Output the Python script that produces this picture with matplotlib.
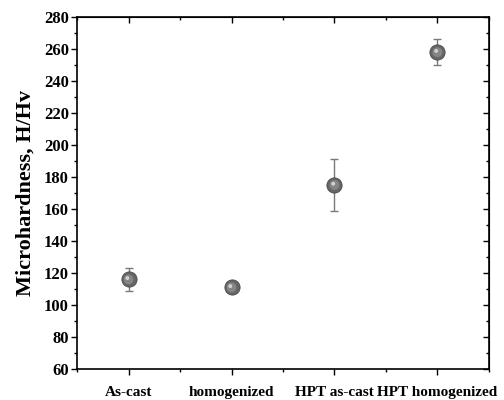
import matplotlib.pyplot as plt
import numpy as np
from matplotlib.ticker import MultipleLocator

# data
samples = ['As-cast', 'homogenized', 'HPT as-cast', 'HPT homogenized']
hardness = [116, 111, 175, 258]
hardness_err = [7, 2, 16.5, 8]

plt.rcParams['font.family'] = 'Liberation Serif'
plt.rcParams['font.weight'] = 'bold'

fig = plt.figure(figsize=(5.04, 4.0), dpi=100)
ax = fig.add_axes([0.153, 0.0775, 0.817, 0.88])

x = np.arange(1, len(samples) + 1)

ax.errorbar(x, hardness, yerr=hardness_err, fmt='none', ecolor='#7a7a7a',
            elinewidth=1.0, capsize=3, capthick=1.0, zorder=2)
# sphere-like markers: dark body plus a light highlight
ax.scatter(x, hardness, s=120, color='#666666', edgecolors='#4a4a4a',
           linewidths=0.6, zorder=3)
ax.scatter(x, hardness, s=50, color='#858585', edgecolors='none', zorder=4)
ax.scatter(x - 0.012, np.array(hardness) + 0.8, s=8, color='#d0d0d0',
           edgecolors='none', zorder=5)

ax.set_xlim(0.5, 4.5)
ax.set_ylim(60, 280)
ax.set_xticks(x)
ax.set_xticklabels(samples, fontsize=11, fontweight='bold')
ax.xaxis.set_minor_locator(MultipleLocator(0.5))
ax.yaxis.set_major_locator(MultipleLocator(20))
ax.yaxis.set_minor_locator(MultipleLocator(10))
for lab in ax.get_yticklabels():
    lab.set_fontsize(12)
    lab.set_fontweight('bold')

ax.tick_params(axis='both', which='major', direction='out', length=4, width=1)
ax.tick_params(axis='both', which='minor', direction='out', length=2.5, width=1)
ax.tick_params(axis='x', pad=8)
ax.tick_params(axis='y', pad=2)

# ticks on top and right pointing inward
ax_top = ax.secondary_xaxis('top')
ax_top.set_xticks(x)
ax_top.xaxis.set_minor_locator(MultipleLocator(0.5))
ax_top.tick_params(which='major', direction='in', length=4, width=1, labeltop=False)
ax_top.tick_params(which='minor', direction='in', length=2.5, width=1)
ax_right = ax.secondary_yaxis('right')
ax_right.yaxis.set_major_locator(MultipleLocator(20))
ax_right.yaxis.set_minor_locator(MultipleLocator(10))
ax_right.tick_params(which='major', direction='in', length=4, width=1, labelright=False)
ax_right.tick_params(which='minor', direction='in', length=2.5, width=1)

for s in ax.spines.values():
    s.set_linewidth(1.2)

ax.set_ylabel('Microhardness, H/Hv', fontsize=16, fontweight='bold', labelpad=6)

fig.savefig('out.png', dpi=100)
